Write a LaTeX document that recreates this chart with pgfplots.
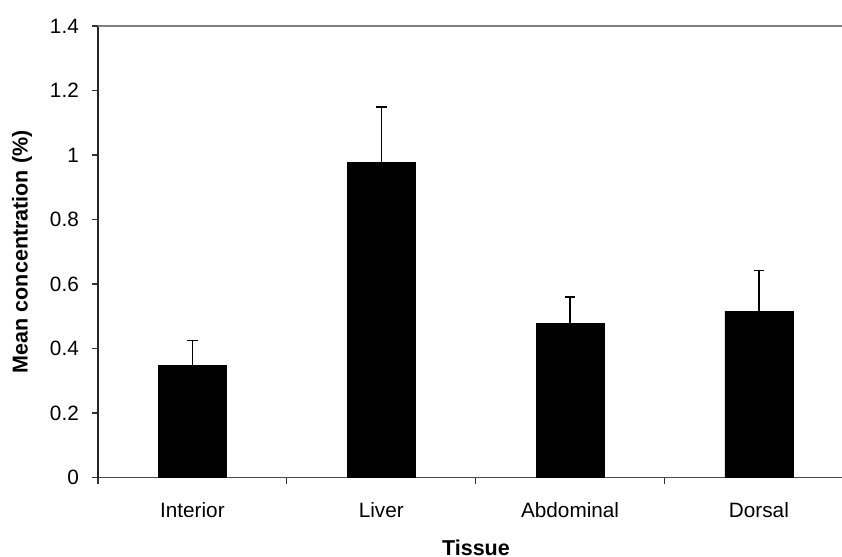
\documentclass[border=0pt]{standalone}
\usepackage{fontspec}
\setmainfont{Liberation Sans}
\usepackage{pgfplots}
\pgfplotsset{compat=1.18}
\begin{document}
\fontsize{10.25}{12}\selectfont
\begin{tikzpicture}
\useasboundingbox (0,0) rectangle (421bp,278.5bp);
\begin{axis}[
  at={(49bp,39.75bp)}, anchor=south west,
  scale only axis, width=372bp, height=225.75bp,
  xmin=-0.5, xmax=3.44, ymin=0, ymax=1.4,
  axis lines*=left,
  x axis line style={black!70, line width=0.8bp},
  y axis line style={black!85, line width=0.8bp},
  every tick/.style={black!80, line width=0.6bp},
  major tick length=3bp,
  tick align=outside,
  ytick={0,0.2,0.4,0.6,0.8,1,1.2,1.4},
  yticklabels={0,0.2,0.4,0.6,0.8,1,1.2,1.4},
  xtick={-0.5,0.5,1.5,2.5},
  xticklabels={,,,},
  extra x ticks={0,1,2,3},
  extra x tick labels={Interior,Liver,Abdominal,Dorsal},
  extra x tick style={tick style={draw=none}},
  tick label style={font=\fontsize{10.4}{12}\selectfont},
  xticklabel style={anchor=base, yshift=-17bp},
  yticklabel style={xshift=-3bp},
  /pgf/number format/assume math mode=true,
  xlabel={Tissue},
  ylabel={Mean concentration (\%)},
  label style={font=\fontsize{10.8}{13}\selectfont\bfseries},
  xlabel style={at={(axis description cs:0.508,0)}, anchor=base, yshift=-39bp},
  ylabel style={at={(axis description cs:0,0.5)}, anchor=center, yshift=38bp},
  ybar, bar width=34bp, bar shift=0pt,
  clip=false,
]
\addplot[fill=black, draw=black,
  error bars/.cd, y dir=plus, y explicit,
  error bar style={line width=0.75bp, black},
  error mark options={rotate=90, mark size=2.7bp, line width=0.75bp, black}]
  table[x=x, y=y, y error=e] {
x y e
0 0.348 0.077
1 0.977 0.172
2 0.478 0.081
3 0.516 0.126
};
\draw[black!50, line width=0.8bp] (rel axis cs:0,1) -- (rel axis cs:1,1);
\end{axis}
\end{tikzpicture}
\end{document}
